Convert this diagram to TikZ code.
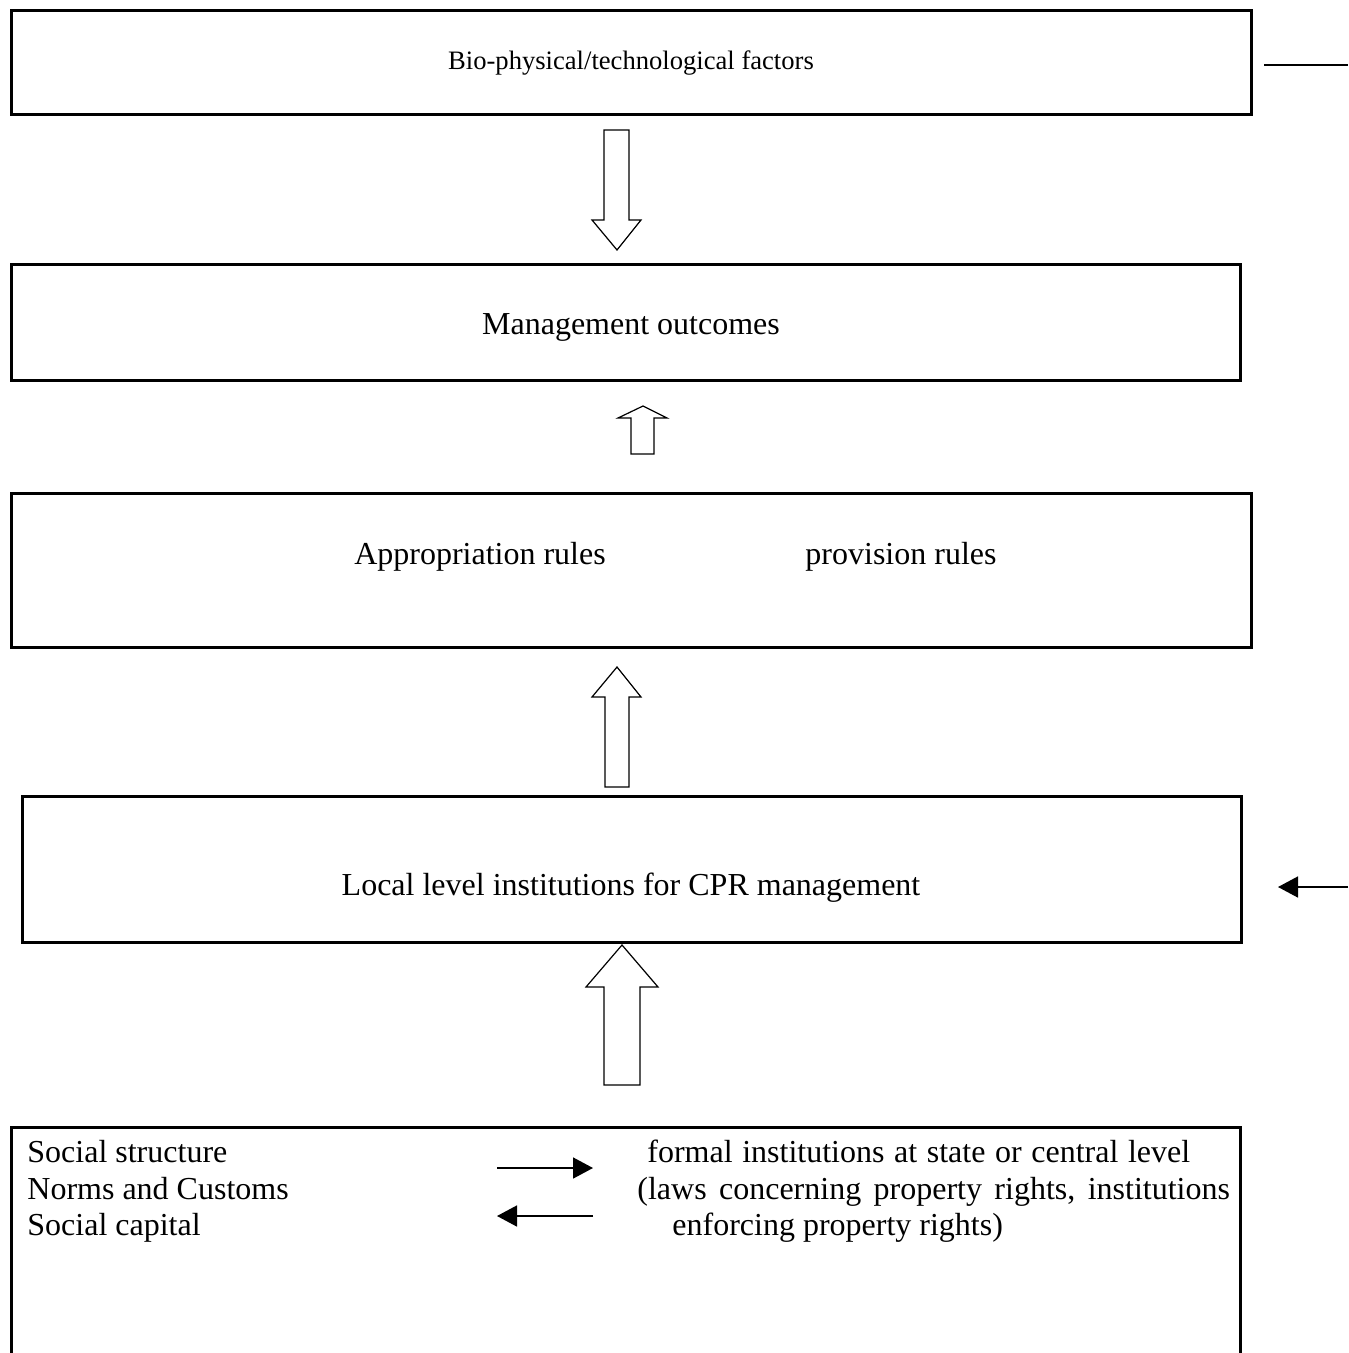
\documentclass[tikz,border=0pt]{standalone}
\usepackage{fontspec}
\setmainfont{Liberation Serif}
\usetikzlibrary{arrows.meta, positioning}

\begin{document}
\begin{tikzpicture}[x=0.5pt, y=-0.5pt]
        \tikzstyle{box} = [rectangle, draw, line width=1.5pt, inner sep=0pt]
        \tikzstyle{txt} = [font=\fontsize{16}{18.25}\selectfont, inner sep=0pt]
        \tikzstyle{smalltxt} = [font=\fontsize{13.3}{16}\selectfont, inner sep=0pt]
        \tikzstyle{hollow} = [draw, line width=0.6pt, line join=miter]
        \tikzstyle{arrow} = [line width=0.8pt, -{Triangle[length=10pt, width=10.5pt]}]

        \clip (0,0) rectangle (1348,1353);

        % boxes
        \node (bio) [box, smalltxt, minimum width=620pt, minimum height=52pt] at (631,63) {Bio-physical/technological factors};
        \node (mgmt) [box, minimum width=614.5pt, minimum height=57.5pt] at (625.5,322.5) {};
        \node (rules) [box, minimum width=620pt, minimum height=77pt] at (631,570) {};
        \node (local) [box, minimum width=609.5pt, minimum height=73pt] at (631.5,869) {};
        \node (social) [box, minimum width=614.5pt, minimum height=163pt] at (625.5,1290) {};

        % texts
        \node (mgmttxt) [txt] at (631,327) {Management outcomes};
        \node (approp) [txt] at (480,557) {Appropriation rules};
        \node (provis) [txt] at (901,557) {provision rules};
        \node (localtxt) [txt] at (631,888) {Local level institutions for CPR management};
        \node (socialtxt) [txt, align=left, anchor=north west] at (27,1140) {Social structure\\Norms and Customs\\Social capital};
        \node (formaltxt) [txt, align=left, anchor=north west] at (637,1140) {\spaceskip=4.8pt\hspace{5pt}formal institutions at state or central level\\\spaceskip=6.2pt(laws concerning property rights, institutions\\\hspace{17.5pt}enforcing property rights)};

        % block arrows
        \draw [hollow] (604,130) -- (629,130) -- (629,220) -- (641,220) -- (617,250) -- (592,220) -- (604,220) -- cycle;
        \draw [hollow] (631,454) -- (654,454) -- (654,418) -- (667,418) -- (643,406) -- (618,418) -- (631,418) -- cycle;
        \draw [hollow] (605,787) -- (629,787) -- (629,697) -- (641,697) -- (617,667) -- (592,697) -- (605,697) -- cycle;
        \draw [hollow] (604,1085) -- (640,1085) -- (640,987) -- (658,987) -- (622,945) -- (586,987) -- (604,987) -- cycle;

        % side connectors
        \coordinate (bioout) at (1264,65);
        \coordinate (bioend) at (1348,65);
        \coordinate (localin) at (1348,887);
        \coordinate (localend) at (1278,887);
        \draw [line width=0.75pt] (bioout) -- (bioend);
        \draw [arrow] (localin) -- (localend);

        % arrows between the two columns
        \coordinate (soc1) at (497,1168);
        \coordinate (for1) at (593,1168);
        \coordinate (soc2) at (497,1216);
        \coordinate (for2) at (593,1216);
        \draw [arrow] (soc1) -- (for1);
        \draw [arrow] (for2) -- (soc2);
\end{tikzpicture}
\end{document}
